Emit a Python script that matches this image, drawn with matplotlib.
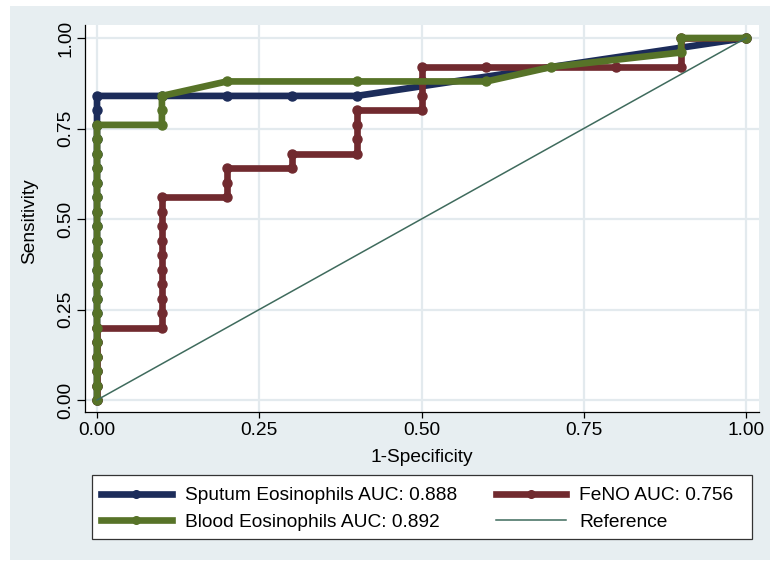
import matplotlib
matplotlib.use('Agg')
import matplotlib.pyplot as plt
from matplotlib.lines import Line2D
from matplotlib.patches import Rectangle
from matplotlib.ticker import FormatStrFormatter

plt.rcParams['font.family'] = ['Liberation Sans', 'DejaVu Sans']
plt.rcParams['font.size'] = 13.8

# ROC points (x = 1-specificity, y = sensitivity)
sputum_x = [0, 0, 0, 0, 0, 0, 0, 0, 0, 0, 0, 0, 0, 0, 0, 0, 0, 0, 0, 0, 0, 0,
            0.1, 0.2, 0.3, 0.4, 1.0]
sputum_y = [0, 0.04, 0.08, 0.12, 0.16, 0.20, 0.24, 0.28, 0.32, 0.36, 0.40,
            0.44, 0.48, 0.52, 0.56, 0.60, 0.64, 0.68, 0.72, 0.76, 0.80, 0.84,
            0.84, 0.84, 0.84, 0.84, 1.0]

feno_x = [0, 0, 0, 0, 0, 0,
          0.1, 0.1, 0.1, 0.1, 0.1, 0.1, 0.1, 0.1, 0.1, 0.1,
          0.2, 0.2, 0.2, 0.3, 0.3, 0.4, 0.4, 0.4, 0.4,
          0.5, 0.5, 0.5, 0.5, 0.6, 0.8, 0.9, 0.9, 1.0]
feno_y = [0, 0.04, 0.08, 0.12, 0.16, 0.20,
          0.20, 0.24, 0.28, 0.32, 0.36, 0.40, 0.44, 0.48, 0.52, 0.56,
          0.56, 0.60, 0.64, 0.64, 0.68, 0.68, 0.72, 0.76, 0.80,
          0.80, 0.84, 0.88, 0.92, 0.92, 0.92, 0.92, 1.0, 1.0]

blood_x = [0, 0, 0, 0, 0, 0, 0, 0, 0, 0, 0, 0, 0, 0, 0, 0, 0, 0, 0, 0,
           0.1, 0.1, 0.1, 0.2, 0.4, 0.6, 0.7, 0.9, 0.9, 1.0]
blood_y = [0, 0.04, 0.08, 0.12, 0.16, 0.20, 0.24, 0.28, 0.32, 0.36, 0.40,
           0.44, 0.48, 0.52, 0.56, 0.60, 0.64, 0.68, 0.72, 0.76,
           0.76, 0.80, 0.84, 0.88, 0.88, 0.88, 0.92, 0.96, 1.0, 1.0]

ref_x = [0, 1]
ref_y = [0, 1]

labels = ['Sputum Eosinophils AUC: 0.888', 'FeNO AUC: 0.756',
          'Blood Eosinophils AUC: 0.892', 'Reference']
ticks = [0, 0.25, 0.5, 0.75, 1.0]

navy = '#1c2c5a'
maroon = '#712a2f'
green = '#577328'
refc = '#3f6b5d'
bg = '#e7eef1'
grid = '#e3eaee'

W, H = 770, 562
fig = plt.figure(figsize=(W / 100, H / 100), dpi=100)
fig.patch.set_facecolor('white')
fig.patches.append(Rectangle((10 / W, 2 / H), 1, 554 / H, transform=fig.transFigure,
                             facecolor=bg, edgecolor='none', zorder=-10))

ax = fig.add_axes([85 / W, 1 - 412 / H, 674 / W, 387 / H])
ax.set_facecolor('white')

lw, ms = 4.8, 6.5
ax.plot(sputum_x, sputum_y, color=navy, lw=lw, marker='o', ms=ms, zorder=3)
ax.plot(feno_x, feno_y, color=maroon, lw=lw, marker='o', ms=ms, zorder=4)
ax.plot(blood_x, blood_y, color=green, lw=lw, marker='o', ms=ms, zorder=5)
ax.plot(ref_x, ref_y, color=refc, lw=1.1, zorder=6)

ax.set_xlim(-0.0185, 1.020)
ax.set_ylim(-0.0331, 1.0359)
ax.set_xticks(ticks)
ax.set_yticks(ticks)
ax.xaxis.set_major_formatter(FormatStrFormatter('%.2f'))
ax.yaxis.set_major_formatter(FormatStrFormatter('%.2f'))
ax.grid(True, color=grid, lw=1.6, zorder=0)
ax.set_axisbelow(True)
for s in ['top', 'right']:
    ax.spines[s].set_visible(False)
for s in ['left', 'bottom']:
    ax.spines[s].set_color('black')
    ax.spines[s].set_linewidth(0.9)
ax.tick_params(axis='x', length=4, width=0.9, pad=3)
ax.tick_params(axis='y', length=5.5, width=0.9, pad=2, labelrotation=90)
for t in ax.get_yticklabels():
    t.set_va('center')

fig.text(30 / W, 1 - 221 / H, 'Sensitivity', rotation=90, ha='center', va='center')
fig.text(422 / W, 1 - 462 / H, '1-Specificity', ha='center', va='baseline')

# legend: white box drawn separately, entries row-wise
fig.patches.append(Rectangle((92 / W, 1 - 539 / H), 660 / W, 64 / H, transform=fig.transFigure,
                             facecolor='white', edgecolor='#333333', lw=0.9, zorder=1))
h_sp = Line2D([], [], color=navy, lw=4.8, marker='o', ms=5.5)
h_fe = Line2D([], [], color=maroon, lw=4.8, marker='o', ms=5.5)
h_bl = Line2D([], [], color=green, lw=4.8, marker='o', ms=5.5)
h_rf = Line2D([], [], color=refc, lw=1.1)
fig.legend([h_sp, h_bl, h_fe, h_rf], [labels[0], labels[2], labels[1], labels[3]],
           ncol=2, loc='upper left', bbox_to_anchor=(101 / W, 1 - 487 / H),
           frameon=False, borderpad=0, borderaxespad=0, numpoints=1,
           handlelength=3.7, handletextpad=0.68, columnspacing=2.0,
           labelspacing=0.48, fontsize=13.8)

fig.savefig('out.png', dpi=100)
